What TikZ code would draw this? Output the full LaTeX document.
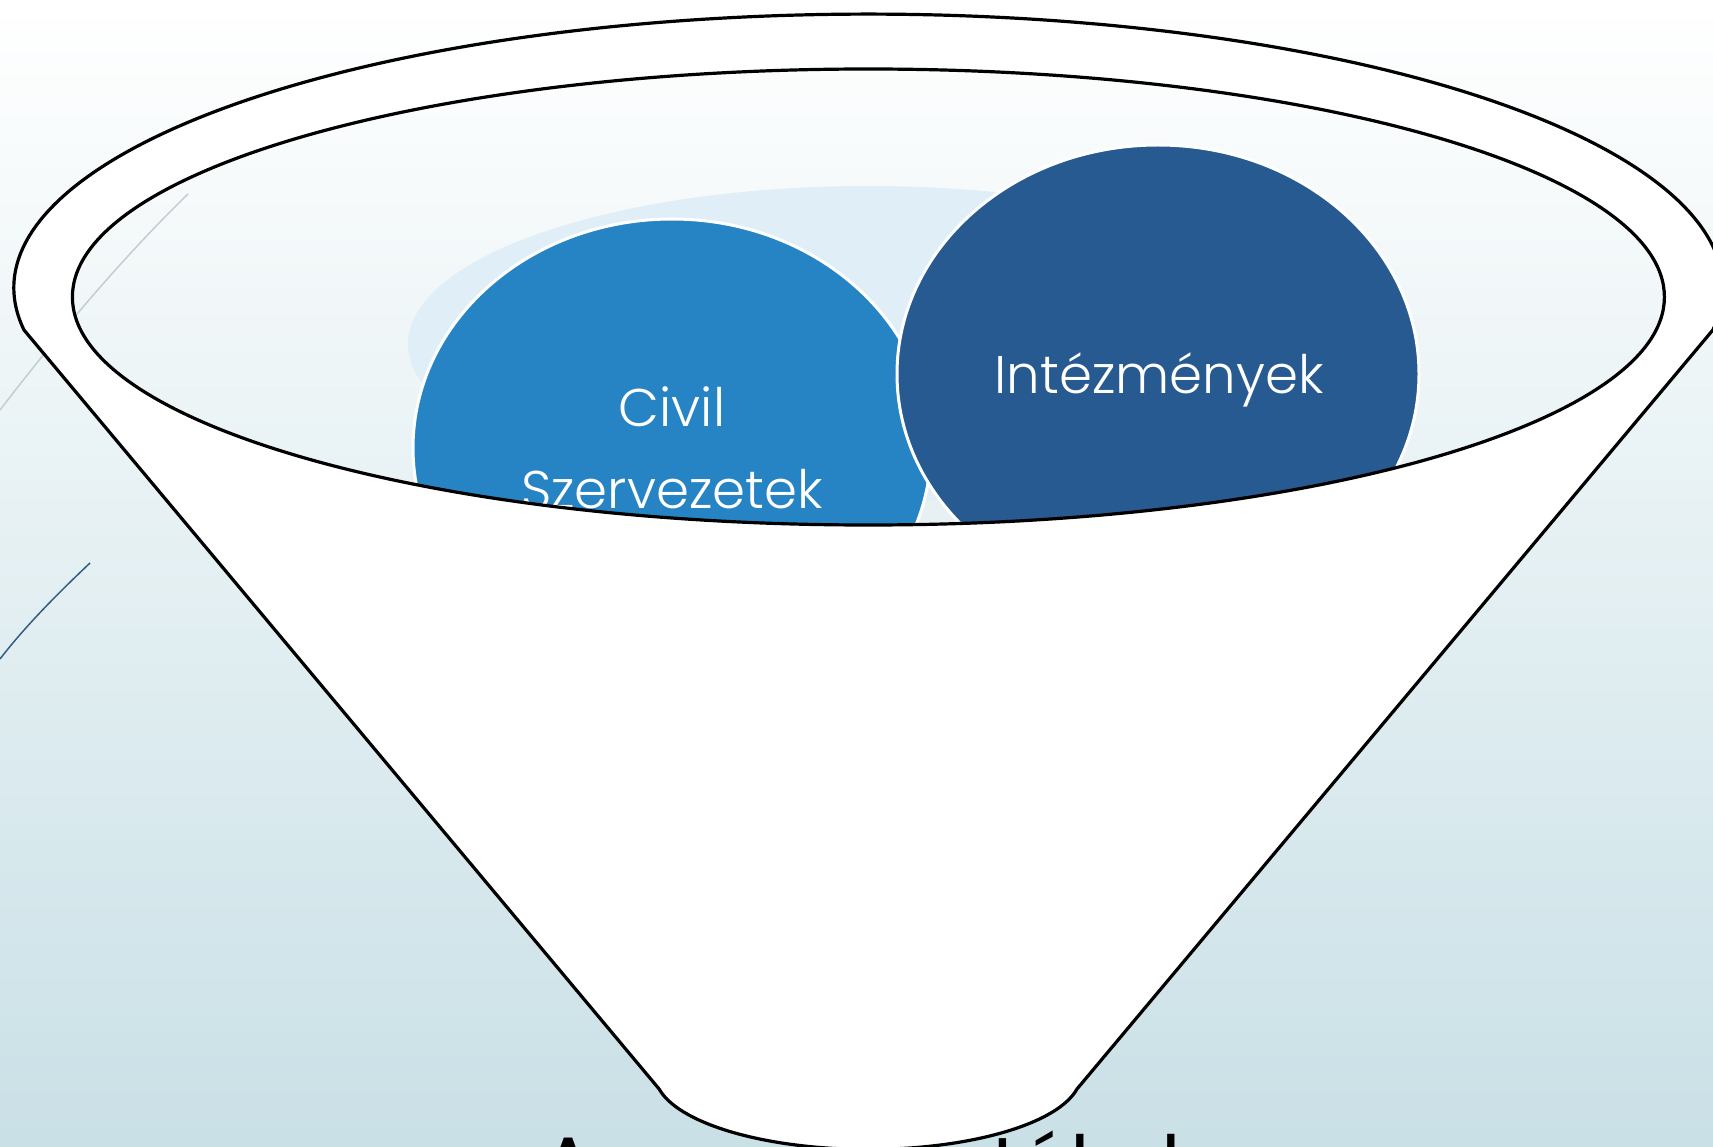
\documentclass[tikz,border=0pt]{standalone}
\usepackage{fontspec}
\setmainfont{Poppins}
\newfontfamily\thinfont{Poppins Light}
\definecolor{bgbot}{RGB}{201,224,230}
\definecolor{lightell}{RGB}{224,238,248}
\definecolor{civilblue}{RGB}{38,132,197}
\definecolor{intblue}{RGB}{40,90,146}
\definecolor{decogray}{RGB}{196,205,212}
\definecolor{decoblue}{RGB}{52,94,128}
\tikzset{
  rimline/.style={draw=black, line width=3.2pt, line join=round},
  ballshape/.style={draw=white, line width=3pt},
  balltext/.style={text=white, font=\thinfont\fontsize{53}{53}\selectfont},
  decoline/.style={line width=1.5pt}
}
\begin{document}
\begin{tikzpicture}[x=1pt,y=-1pt]
\useasboundingbox (0,0) rectangle (1713,1147);
% background
\shade[top color=white, bottom color=bgbot] (0,0) rectangle (1713,1147);
\draw[decoline, draw=decogray] (188,194) .. controls (115,265) and (50,345) .. (0,410);
\draw[decoline, draw=decoblue] (90,563) .. controls (70,582) and (30,620) .. (0,659);
% title (mostly hidden behind the funnel)
\node[anchor=base west, inner sep=0pt, font=\fontsize{80}{80}\selectfont] (title) at (541,1193) {A nemes értékek};
% funnel body with hole for the mouth
\fill[white, even odd rule] (24,330) arc[start angle=171.2, end angle=368.8, x radius=854.5, y radius=274]
  -- (1077,1089) arc[start angle=11.2, end angle=168.8, x radius=213, y radius=75] -- cycle
  (868.4,297) ellipse[x radius=796, y radius=228];
% contents inside the mouth
\begin{scope}
  \clip (868.4,297) ellipse[x radius=796, y radius=228];
  \fill[lightell] (868,344) ellipse[x radius=460, y radius=158];
  \draw[ballshape, fill=civilblue] (672,448) ellipse[x radius=259, y radius=229];
  \node[balltext, anchor=base] (civil) at (672,426) {Civil};
  \node[balltext, anchor=base] (szerv) at (672,508) {Szervezetek};
  \draw[ballshape, fill=intblue] (1158,374) ellipse[x radius=261, y radius=229];
  \node[balltext, anchor=base] (intez) at (1159,393) {Intézmények};
\end{scope}
% outlines
\draw[rimline] (24,330) arc[start angle=171.2, end angle=368.8, x radius=854.5, y radius=274]
  -- (1077,1089) arc[start angle=11.2, end angle=168.8, x radius=213, y radius=75] -- cycle;
\draw[rimline] (868.4,297) ellipse[x radius=796, y radius=228];
\end{tikzpicture}
\end{document}
